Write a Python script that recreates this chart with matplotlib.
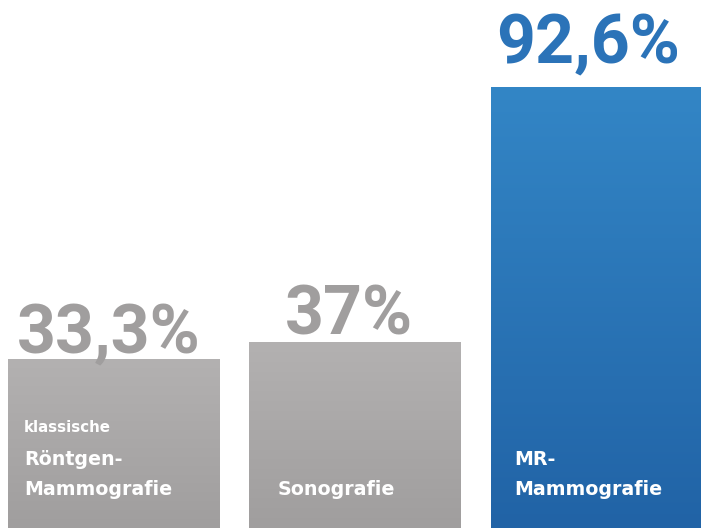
import numpy as np
import matplotlib
matplotlib.use("Agg")
import matplotlib.pyplot as plt
from matplotlib.colors import LinearSegmentedColormap

# data
categories = [["klassische", "Röntgen-", "Mammografie"], ["Sonografie"], ["MR-", "Mammografie"]]
values = [33.3, 37.0, 92.6]
value_labels = ["33,3%", "37%", "92,6%"]

# style
gray_top, gray_bottom = "#b3b1b1", "#a09e9e"
blue_top, blue_bottom = "#3386c6", "#2163a6"
bar_colors = [(gray_top, gray_bottom), (gray_top, gray_bottom), (blue_top, blue_bottom)]
label_colors = ["#a09e9e", "#a09e9e", "#2b73b8"]
label_pad = [6, 8, 23]          # px between bar top and value baseline
label_shift = [-5, -6, -8]      # px horizontal shift of value labels
text_pad = [16, 28, 23]         # px from bar left edge to category text
base = -3.5

# 72 dpi so that points == pixels
fig = plt.figure(figsize=(701 / 72, 528 / 72), dpi=72)
ax = fig.add_axes([0, 0, 1, 1])
ax.axis("off")

x = np.arange(len(values))
width = 0.874
bars = ax.bar(x, [v - base for v in values], bottom=base, width=width,
              color="none", edgecolor="none")

grad = np.linspace(0, 1, 256).reshape(-1, 1)
for b, (top, bottom) in zip(bars, bar_colors):
    cmap = LinearSegmentedColormap.from_list("g", [bottom, top])
    x0, y0 = b.get_x(), b.get_y()
    im = ax.imshow(grad, cmap=cmap, origin="lower", aspect="auto",
                   extent=[x0, x0 + b.get_width(), y0, y0 + b.get_height()],
                   zorder=1)
    im.set_clip_path(b)

ax.set_xlim(-0.47, 2.433)
ax.set_ylim(base, 111.5)

for i, (v, lab) in enumerate(zip(values, value_labels)):
    ax.annotate(lab, (x[i], v), xytext=(label_shift[i], label_pad[i]),
                textcoords="offset points", ha="center", va="baseline",
                fontsize=68, fontweight="bold", family="Roboto",
                color=label_colors[i], zorder=3)

xt = ax.get_xaxis_transform()
for i, lines in enumerate(categories):
    left = x[i] - width / 2
    y = 33
    for j, line in enumerate(reversed(lines)):
        small = (line == "klassische")
        ax.annotate(line, (left, 0), xycoords=xt,
                    xytext=(text_pad[i], y), textcoords="offset points",
                    ha="left", va="baseline", color="white",
                    fontsize=15 if small else 19, fontweight="bold",
                    family="DejaVu Sans", zorder=3)
        y += 30 if j == 0 else 33

fig.savefig("out.png", dpi=72, facecolor="white")
